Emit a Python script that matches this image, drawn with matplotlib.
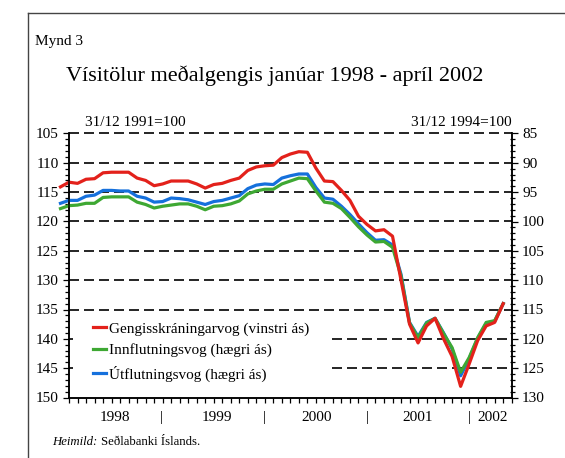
import matplotlib.pyplot as plt
from matplotlib.ticker import MultipleLocator
import numpy as np

plt.rcParams['font.family'] = ['Liberation Serif', 'DejaVu Serif']

# mánaðarleg gildi, fyrsti punktur er rétt vinstra megin við ásinn
gengisvog = [114.1, 113.3, 113.5, 112.8, 112.7, 111.7, 111.6, 111.6, 111.6, 112.6,
             113.0, 113.9, 113.6, 113.1, 113.1, 113.1, 113.6, 114.3, 113.7, 113.5,
             113.0, 112.6, 111.3, 110.7, 110.5, 110.4, 109.1, 108.5, 108.1, 108.2,
             110.9, 113.1, 113.2, 114.7, 116.4, 119.1, 120.5, 121.6, 121.4, 122.5,
             130.0, 137.5, 140.7, 137.8, 136.5, 140.0, 143.0, 148.1, 144.3, 140.3,
             137.8, 137.2, 134.0]
# hægri ás
innflutningsvog = [97.8, 97.3, 97.2, 96.9, 96.9, 95.9, 95.8, 95.8, 95.8, 96.7,
                   97.1, 97.7, 97.4, 97.2, 97.0, 97.0, 97.4, 98.0, 97.4, 97.3,
                   97.0, 96.5, 95.3, 94.8, 94.5, 94.5, 93.6, 93.1, 92.6, 92.7,
                   94.8, 96.7, 96.9, 97.8, 99.3, 100.9, 102.3, 103.5, 103.4, 104.4,
                   109.3, 117.3, 119.8, 117.3, 116.5, 119.1, 121.5, 125.7, 123.2, 119.8,
                   117.2, 116.9, 114.0]
utflutningsvog = [96.9, 96.4, 96.4, 95.7, 95.5, 94.7, 94.7, 94.8, 94.8, 95.7,
                  96.0, 96.7, 96.6, 96.0, 96.1, 96.3, 96.7, 97.1, 96.6, 96.4,
                  96.0, 95.6, 94.4, 93.8, 93.6, 93.7, 92.6, 92.2, 91.9, 91.9,
                  94.2, 96.0, 96.2, 97.4, 98.8, 100.4, 101.9, 103.2, 103.1, 104.0,
                  109.0, 117.2, 119.6, 117.2, 116.5, 119.0, 121.7, 126.3, 123.4, 119.9,
                  117.4, 117.0, 114.0]

heiti = ['Gengisskráningarvog (vinstri ás)', 'Innflutningsvog (hægri ás)',
         'Útflutningsvog (hægri ás)']
ar = ['1998', '1999', '2000', '2001', '2002']
ar_midja = [5.4, 17.4, 29.1, 41.0, 49.8]
ar_skil = [10.9, 23.0, 35.1, 47.0]

W, H = 565, 458
RAUTT, GRAENT, BLATT = '#e3211b', '#3ea833', '#1570dc'


def px(x, y):
    return x / W, 1 - y / H


fig = plt.figure(figsize=(W / 100, H / 100), dpi=100)
ax = fig.add_axes([69 / W, 60.5 / H, 442.7 / W, 264 / H])
ax2 = ax.twinx()

x = np.arange(len(gengisvog)) - 1
hlidrun = 20  # hægri ás = vinstri ás - 20

# línur (allar á vinstri ás svo rauða línan sé efst)
l_ut, = ax.plot(x, np.array(utflutningsvog) + hlidrun, color=BLATT, lw=2.3, clip_on=False, zorder=3)
l_inn, = ax.plot(x, np.array(innflutningsvog) + hlidrun, color=GRAENT, lw=2.3, clip_on=False, zorder=4)
l_gen, = ax.plot(x, gengisvog, color=RAUTT, lw=2.3, clip_on=False, zorder=5)

# brotalínur
strik = (0, (6, 3))
for v in [105, 110, 115, 120, 125, 130, 135]:
    ax.hlines(v, 0, 52, colors='black', linestyles=strik, lw=1.2, clip_on=False, zorder=1)
for v in [140, 145]:
    ax.hlines(v, 0, 0.5, colors='black', linestyles=strik, lw=1.2, zorder=1)
    ax.hlines(v, 30.9, 52, colors='black', linestyles=strik, lw=1.2, zorder=1)

ax.set_xlim(0, 52)
ax.set_ylim(150, 105)
ax2.set_ylim(130, 85)

ax.set_xticks(np.arange(0, 53))
ax.set_xticklabels([])
ax.tick_params(axis='x', direction='out', length=3.6, width=0.9)

ax.yaxis.set_major_locator(MultipleLocator(5))
ax.yaxis.set_minor_locator(MultipleLocator(1))
ax2.yaxis.set_major_locator(MultipleLocator(5))
ax2.yaxis.set_minor_locator(MultipleLocator(1))
ax.tick_params(axis='y', which='major', direction='out', length=4.5, width=0.9, pad=3, labelsize=11)
ax.tick_params(axis='y', which='minor', direction='out', length=2.6, width=0.9)
ax2.tick_params(axis='y', which='major', direction='out', length=4.5, width=0.9, pad=3, labelsize=11)
ax2.tick_params(axis='y', which='minor', direction='inout', length=3.6, width=0.9)

for a in (ax, ax2):
    a.spines['top'].set_visible(False)
    for s in ('left', 'right', 'bottom'):
        a.spines[s].set_linewidth(1.1)

# ártöl undir ás
tr = ax.get_xaxis_transform()
for t, m in zip(ar, ar_midja):
    ax.text(m, -0.074, t, transform=tr, ha='center', va='center', fontsize=11)
for s in ar_skil:
    ax.text(s, -0.074, '|', transform=tr, ha='center', va='center', fontsize=11)

ax.legend([l_gen, l_inn, l_ut], heiti, loc='upper left',
          bbox_to_anchor=px(85, 314), bbox_transform=fig.transFigure,
          frameon=False, fontsize=11, borderpad=0, handlelength=0.85,
          handletextpad=0.25, labelspacing=0.52)

# textar
fig.text(*px(35, 42), 'Mynd 3', fontsize=11, va='center')
fig.text(*px(275, 76), 'Vísitölur meðalgengis janúar 1998 - apríl 2002',
         fontsize=16, ha='center', va='center')
fig.text(*px(85, 122), '31/12 1991=100', fontsize=11, va='center')
fig.text(*px(512, 122), '31/12 1994=100', fontsize=11, va='center', ha='right')
fig.text(*px(52, 442), 'Heimild:', fontsize=9.2, style='italic', va='center')
fig.text(*px(101, 442), 'Seðlabanki Íslands.', fontsize=9.2, va='center')

# rammi
fig.add_artist(plt.Line2D([28 / W, 1], [1 - 13 / H, 1 - 13 / H], color='#444444', lw=1))
fig.add_artist(plt.Line2D([28 / W, 28 / W], [0, 1 - 13 / H], color='#444444', lw=1))

fig.savefig('out.png', dpi=100)
